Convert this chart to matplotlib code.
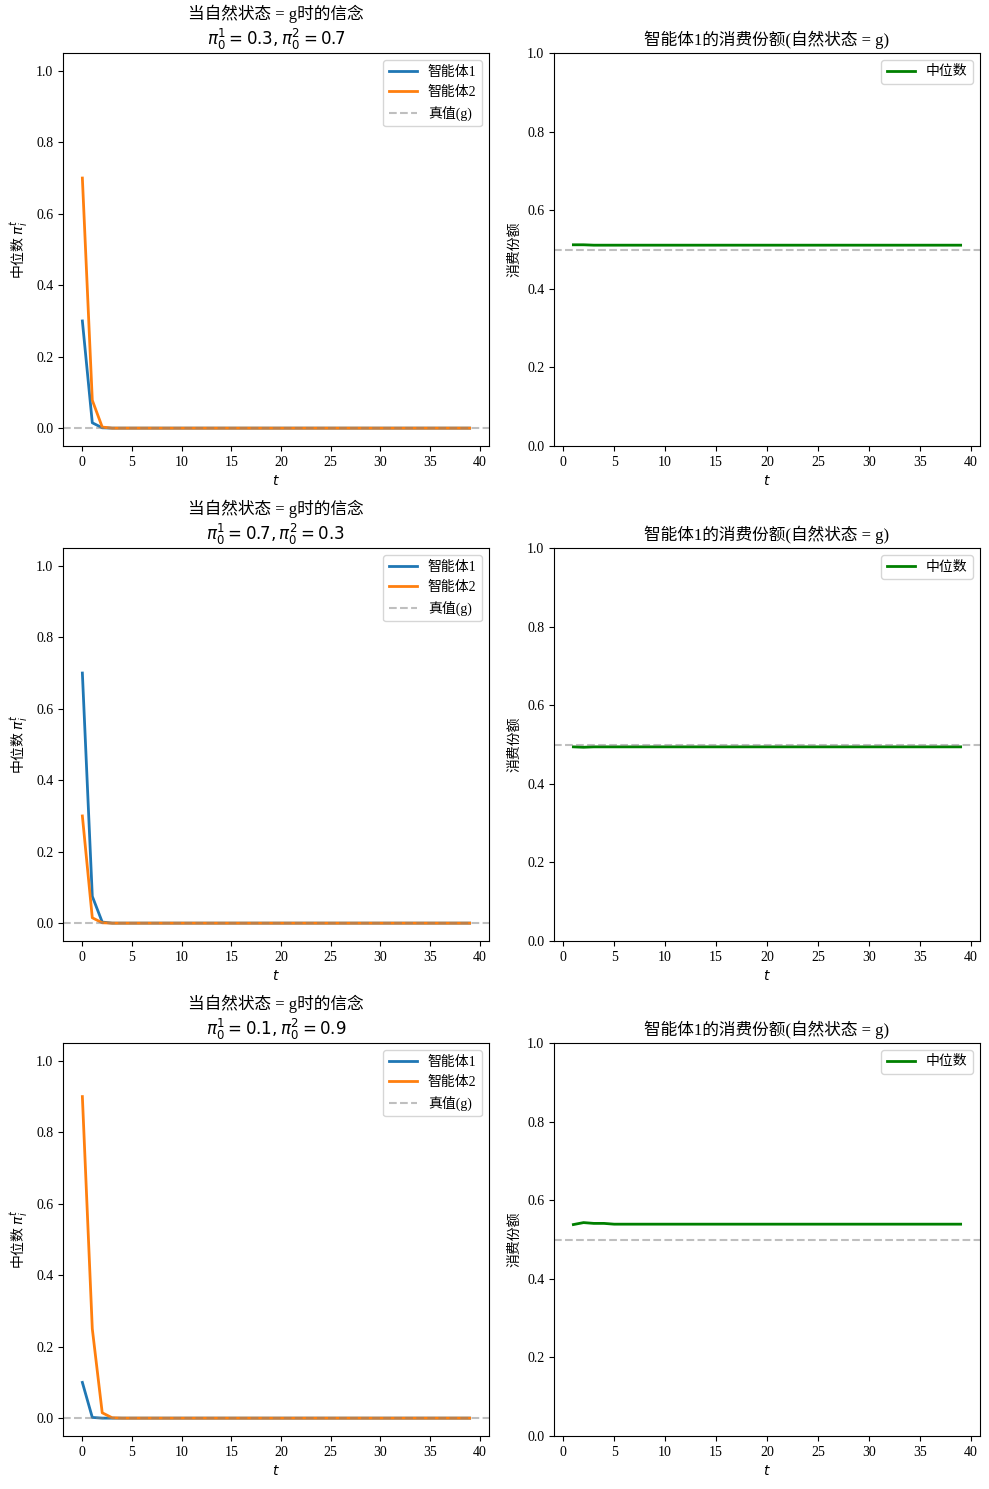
import numpy as np
import matplotlib
matplotlib.use('Agg')
import matplotlib.pyplot as plt

plt.rcParams['font.family'] = ['Liberation Serif', 'Noto Sans CJK SC', 'DejaVu Sans']
plt.rcParams['axes.unicode_minus'] = False

# 左列：信念的中位数 (t = 0..39)
t_belief = list(range(40))
prior_labels = [r'$\pi_0^1=0.3, \pi_0^2=0.7$',
                r'$\pi_0^1=0.7, \pi_0^2=0.3$',
                r'$\pi_0^1=0.1, \pi_0^2=0.9$']
agent1_belief = [
    [0.30, 0.015, 0.001] + [0.0] * 37,
    [0.70, 0.075, 0.003] + [0.0] * 37,
    [0.10, 0.002, 0.0] + [0.0] * 37,
]
agent2_belief = [
    [0.70, 0.078, 0.003] + [0.0] * 37,
    [0.30, 0.015, 0.001] + [0.0] * 37,
    [0.90, 0.25, 0.015, 0.001] + [0.0] * 36,
]

# 右列：智能体1的消费份额中位数 (t = 1..39)
t_share = list(range(1, 40))
share_median = [
    [0.512, 0.512, 0.511] + [0.511] * 36,
    [0.494, 0.493, 0.494] + [0.494] * 36,
    [0.538, 0.543, 0.541, 0.541, 0.539] + [0.539] * 34,
]

fig = plt.figure(figsize=(9.89, 14.89), dpi=100)
W, H = 989, 1489
row_tops = [53, 548, 1043]
ax_h = 393

for i in range(3):
    top = row_tops[i]
    ax1 = fig.add_axes([63 / W, 1 - (top + ax_h) / H, 426 / W, ax_h / H])
    ax1.plot(t_belief, agent1_belief[i], color='C0', lw=2, label='智能体1')
    ax1.plot(t_belief, agent2_belief[i], color='C1', lw=2, label='智能体2')
    ax1.axhline(0, color='gray', ls='--', alpha=0.5, label='真值(g)')
    ax1.set_ylim(-0.05, 1.05)
    ax1.set_xlabel('$t$')
    # 整个标签走 mathtext，非数学部分只用一个字体文件，所以这里直接用 CJK 字体
    ax1.set_ylabel(r'中位数 $\pi_i^t$', fontfamily='Noto Sans CJK SC')
    ax1.set_title('当自然状态 = g时的信念\n' + prior_labels[i])
    ax1.legend(loc='upper right')

    ax2 = fig.add_axes([554 / W, 1 - (top + ax_h) / H, 426 / W, ax_h / H])
    ax2.plot(t_share, share_median[i], color='g', lw=2, label='中位数')
    ax2.axhline(0.5, color='gray', ls='--', alpha=0.5)
    ax2.set_ylim(0, 1)
    ax2.set_xlabel('$t$')
    ax2.set_ylabel('消费份额')
    ax2.set_title('智能体1的消费份额(自然状态 = g)')
    ax2.legend(loc='upper right')

fig.savefig('out.png', dpi=100)
